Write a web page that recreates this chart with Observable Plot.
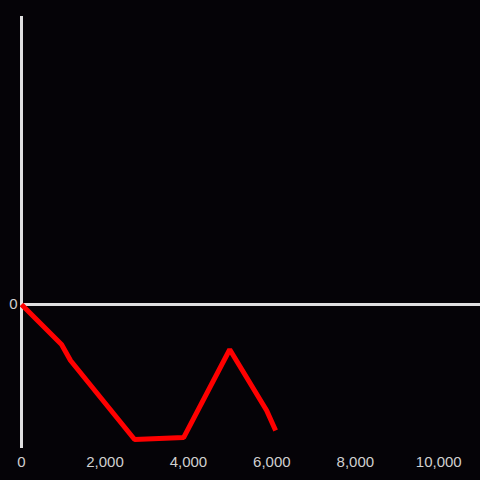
<!DOCTYPE html>
<html><head><meta charset="utf-8">
<script src="https://cdn.jsdelivr.net/npm/d3@7"></script>
<script src="https://cdn.jsdelivr.net/npm/@observablehq/plot@0.6"></script>
<style>
html,body{margin:0;padding:0;background:#050307;}
</style>
</head><body>
<div id="chart"></div>
<script>
const xs = [0, 960, 1175, 2710, 3885, 4990, 5875, 6090];
const ys = [0, -0.278, -0.389, -0.9375, -0.924, -0.3125, -0.736, -0.875];
const xTicks = [0, 2000, 4000, 6000, 8000, 10000];
const yTicks = [0];
const data = xs.map((x, i) => ({x, y: ys[i]}));

const chart = Plot.plot({
  width: 480, height: 480,
  marginLeft: 21, marginRight: 0, marginTop: 16, marginBottom: 32,
  style: {background: "#050307", color: "#d0d0d0", fontFamily: "Liberation Sans, Arial, sans-serif", fontSize: "15px"},
  x: {domain: [0, 11000], ticks: xTicks, tickFormat: d3.format(","), tickSize: 0, tickPadding: 8, label: null},
  y: {domain: [-1, 2], ticks: yTicks, tickFormat: d3.format(","), tickSize: 0, tickPadding: 4, label: null},
  marks: [
    Plot.ruleX([0], {stroke: "#e0e0e0", strokeWidth: 3}),
    Plot.ruleY([0], {stroke: "#e0e0e0", strokeWidth: 3}),
    Plot.line(data, {x: "x", y: "y", stroke: "#ff0000", strokeWidth: 5, strokeLinejoin: "miter", strokeLinecap: "butt"})
  ]
});
document.getElementById("chart").appendChild(chart);
</script>
</body></html>
